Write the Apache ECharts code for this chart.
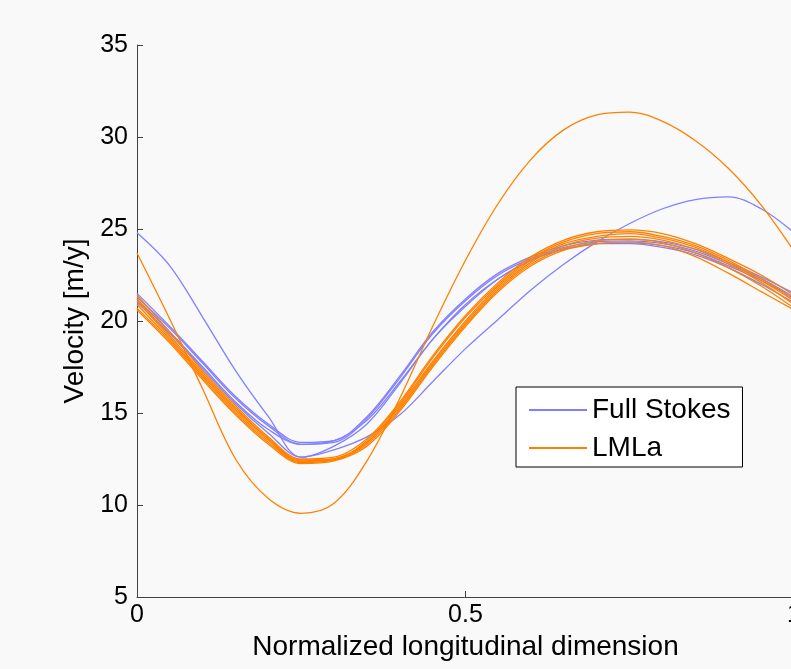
<!DOCTYPE html>
<html>
<head>
<meta charset="utf-8">
<script src="https://cdn.jsdelivr.net/npm/echarts@6/dist/echarts.min.js"></script>
<style>
html,body{margin:0;padding:0;background:#f9f9f9;}
#chart{width:791px;height:669px;}
</style>
</head>
<body>
<div id="chart"></div>
<script>
// Normalized longitudinal positions
const xs = [0,0.05,0.1,0.15,0.2,0.25,0.3,0.35,0.4,0.45,0.5,0.55,0.6,0.65,0.7,0.75,0.8,0.85,0.9,0.95,1];

// Full Stokes curves
const fs1 = [21.5,19.7,17.8,15.9,14.4,13.4,13.5,14.8,17.0,19.4,21.2,22.6,23.5,24.1,24.4,24.45,24.3,23.9,23.2,22.4,21.5];
const fs2 = [21.3,19.6,17.7,15.8,14.3,13.3,13.4,14.7,16.9,19.3,21.1,22.5,23.4,24.0,24.3,24.35,24.2,23.8,23.1,22.3,21.3];
const fs3 = [21.2,19.4,17.5,15.6,14.1,13.3,13.5,14.6,16.7,19.0,20.9,22.3,23.3,23.9,24.2,24.25,24.1,23.7,23.0,22.2,21.2];
const fs4 = [21.0,19.3,17.4,15.5,13.9,12.6,13.2,14.4,16.6,19.0,20.8,22.3,23.3,23.9,24.2,24.2,24.0,23.6,22.9,22.0,21.0];
const fs5 = [24.8,23.0,20.2,17.3,14.8,12.6,13.0,13.7,14.9,16.7,18.5,20.1,21.7,23.1,24.3,25.3,26.1,26.6,26.75,26.1,24.8];

// LMLa curves
const lm1 = [21.4,19.4,17.3,15.4,13.7,12.5,12.6,13.6,15.6,18.1,20.3,22.1,23.5,24.4,24.85,24.95,24.75,24.2,23.4,22.5,21.4];
const lm2 = [21.2,19.2,17.2,15.3,13.6,12.45,12.5,13.5,15.5,18.0,20.2,22.0,23.4,24.3,24.75,24.85,24.6,24.1,23.3,22.3,21.2];
const lm3 = [21.1,19.1,17.1,15.2,13.6,12.4,12.5,13.4,15.4,17.8,20.0,21.9,23.3,24.2,24.6,24.75,24.5,24.0,23.2,22.2,21.1];
const lm4 = [20.9,19.0,17.0,15.1,13.5,12.35,12.5,13.4,15.3,17.7,19.9,21.8,23.2,24.1,24.5,24.6,24.4,23.9,23.1,22.1,20.9];
const lm5 = [20.7,18.9,16.9,15.0,13.4,12.3,12.45,13.3,15.2,17.6,19.8,21.7,23.1,23.95,24.35,24.45,24.25,23.7,22.9,21.9,20.7];
const lm6 = [20.6,18.8,16.8,14.9,13.3,12.25,12.4,13.2,15.1,17.5,19.7,21.6,23.0,23.85,24.2,24.3,24.1,23.5,22.6,21.6,20.6];
const lm7 = [23.7,20.1,16.3,12.5,10.35,9.55,10.1,12.4,15.8,19.7,23.3,26.4,28.8,30.4,31.2,31.35,30.85,29.8,28.3,26.3,23.8];

const fullStokes = [fs1, fs2, fs3, fs4, fs5];
const lmla = [lm1, lm2, lm3, lm4, lm5, lm6, lm7];

const yTicks = [5,10,15,20,25,30,35];
const xTicks = [0,0.5,1];

const BLUE = '#8080ff';
const ORANGE = '#ff8000';
const FONT = 'Liberation Sans, Arial, Helvetica, sans-serif';

function mk(name, vals, color){
  return {
    name: name, type: 'line', symbol: 'none', smooth: 0.35,
    data: xs.map((x,i)=>[x, vals[i]]),
    lineStyle: {color: color, width: 1.3},
    itemStyle: {color: color},
    emphasis: {disabled: true},
    animation: false
  };
}

const series = [];
fullStokes.forEach(v => series.push(mk('Full Stokes', v, BLUE)));
lmla.forEach(v => series.push(mk('LMLa', v, ORANGE)));

const chart = echarts.init(document.getElementById('chart'), null, {renderer:'canvas'});
chart.setOption({
  backgroundColor: '#f9f9f9',
  animation: false,
  grid: {left: 137, top: 45, width: 657, height: 552, containLabel: false, outerBoundsMode: 'none'},
  xAxis: {
    type: 'value', min: 0, max: 1, interval: 0.5,
    name: 'Normalized longitudinal dimension', nameLocation: 'middle', nameGap: 36,
    nameTextStyle: {fontFamily: FONT, fontSize: 28, color: '#000'},
    axisLine: {show: true, lineStyle: {color: '#404040', width: 1}},
    axisTick: {show: true, inside: true, length: 6, lineStyle: {color: '#404040'}},
    axisLabel: {fontFamily: FONT, fontSize: 25, color: '#000', margin: 6, showMaxLabel: true, hideOverlap: false,
      formatter: v => xTicks.includes(v) ? String(v) : ''},
    splitLine: {show: false}
  },
  yAxis: {
    type: 'value', min: 5, max: 35, interval: 5,
    name: 'Velocity [m/y]', nameLocation: 'middle', nameGap: 40, nameRotate: 90,
    nameTextStyle: {fontFamily: FONT, fontSize: 28, color: '#000'},
    axisLine: {show: true, lineStyle: {color: '#404040', width: 1}},
    axisTick: {show: true, inside: true, length: 6, lineStyle: {color: '#404040'}},
    axisLabel: {fontFamily: FONT, fontSize: 25, color: '#000', margin: 9,
      formatter: v => yTicks.includes(v) ? String(v) : ''},
    splitLine: {show: false}
  },
  legend: {
    data: [{name: 'Full Stokes', icon: 'rect'}, {name: 'LMLa', icon: 'rect'}],
    orient: 'vertical', left: 516, top: 387,
    itemWidth: 58, itemHeight: 2, itemGap: 10,
    padding: [9, 12, 5, 13],
    backgroundColor: '#ffffff', borderColor: '#000000', borderWidth: 1, borderRadius: 0,
    textStyle: {fontFamily: FONT, fontSize: 28, color: '#000', lineHeight: 28},
    selectedMode: false
  },
  series: series
});
</script>
</body>
</html>
